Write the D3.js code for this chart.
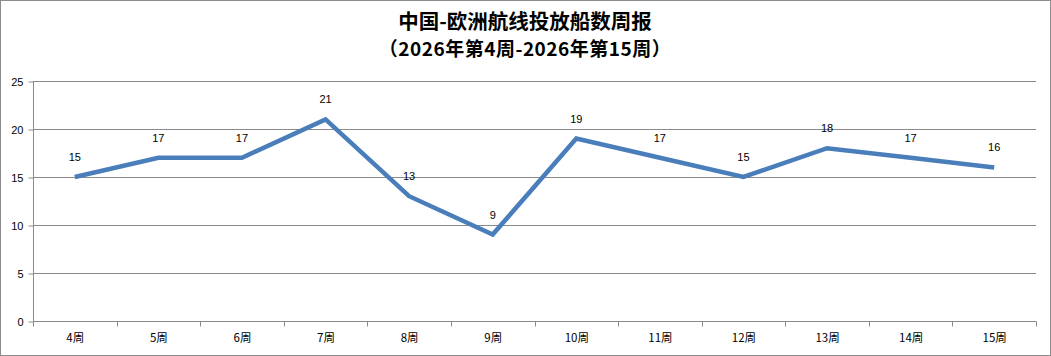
<!DOCTYPE html>
<html><head><meta charset="utf-8">
<script src="https://cdn.jsdelivr.net/npm/d3@7"></script>
<style>body{margin:0;background:#fff}svg{display:block}</style>
</head><body>
<svg id="c" width="1051" height="356"></svg>
<script>
const categories = ["4周","5周","6周","7周","8周","9周","10周","11周","12周","13周","14周","15周"];
const values = [15,17,17,21,13,9,19,17,15,18,17,16];
const yTicks = [0,5,10,15,20,25];
const titleLines = ["中国-欧洲航线投放船数周报","（2026年第4周-2026年第15周）"];

const svg = d3.select("#c");
const W = 1051, H = 356;
const m = {l:33, r:1036, t:81, b:321};
const font = "'Liberation Sans', 'DejaVu Sans', 'Noto Sans CJK SC', sans-serif";
const cjk = "'Noto Sans CJK SC', sans-serif";

svg.append("rect").attr("x",0.5).attr("y",0.5).attr("width",W-1).attr("height",H-1)
  .attr("fill","#fff").attr("stroke","#8c8c8c");

const x = d3.scaleBand().domain(categories).range([m.l,m.r]);
const y = d3.scaleLinear().domain([0,25]).range([m.b,m.t]);

// gridlines
svg.append("g").selectAll("line").data(yTicks.filter(d=>d>0)).join("line")
  .attr("x1",m.l).attr("x2",m.r).attr("y1",d=>y(d)+0.5).attr("y2",d=>y(d)+0.5)
  .attr("stroke","#8a8a8a").attr("stroke-width",1);

// y axis
const ya = svg.append("g").attr("transform",`translate(${m.l+0.5},0.5)`)
  .call(d3.axisLeft(y).tickValues(yTicks).tickSize(5).tickPadding(5));
ya.select(".domain").attr("stroke","#8a8a8a").attr("d",`M0,${m.t}V${m.b}`);
ya.selectAll(".tick line").attr("stroke","#8a8a8a");
ya.selectAll("text").attr("font-family",font).attr("font-size",11).attr("fill","#000");

// x axis
const xa = svg.append("g").attr("transform",`translate(0.5,${m.b+0.5})`)
  .call(d3.axisBottom(x).tickSize(0).tickPadding(12));
xa.select(".domain").attr("stroke","#8a8a8a").attr("d",`M${m.l},0H${m.r}`);
xa.selectAll("text").attr("font-family",cjk).attr("font-size",11.5).attr("fill","#000");
const bounds = categories.map(c=>x(c)).concat([m.r]);
xa.append("g").selectAll("line").data(bounds).join("line")
  .attr("x1",d=>Math.round(d)).attr("x2",d=>Math.round(d)).attr("y1",0).attr("y2",5)
  .attr("stroke","#8a8a8a");

// line
const cx = d => x(d) + x.bandwidth()/2;
svg.append("path").datum(values.map((v,i)=>[categories[i],v]))
  .attr("fill","none").attr("stroke","#4a7ebb").attr("stroke-width",4.5)
  .attr("stroke-linejoin","miter").attr("stroke-linecap","butt")
  .attr("d", d3.line().x(d=>cx(d[0])).y(d=>y(d[1])));

// labels
svg.append("g").selectAll("text").data(values).join("text")
  .attr("x",(d,i)=>cx(categories[i])).attr("y",d=>y(d)-16)
  .attr("text-anchor","middle").attr("font-family",font).attr("font-size",11).attr("fill","#000")
  .text(d=>d);

// title
svg.append("g").selectAll("text").data(titleLines).join("text")
  .attr("x",525).attr("y",(d,i)=>i===0?29:56).attr("text-anchor","middle")
  .attr("font-family",cjk).attr("font-weight","bold").attr("font-size",(d,i)=>i===0?20.5:19)
  .attr("letter-spacing",(d,i)=>i===0?0:0.5).attr("fill","#000")
  .text(d=>d);
</script>
</body></html>
